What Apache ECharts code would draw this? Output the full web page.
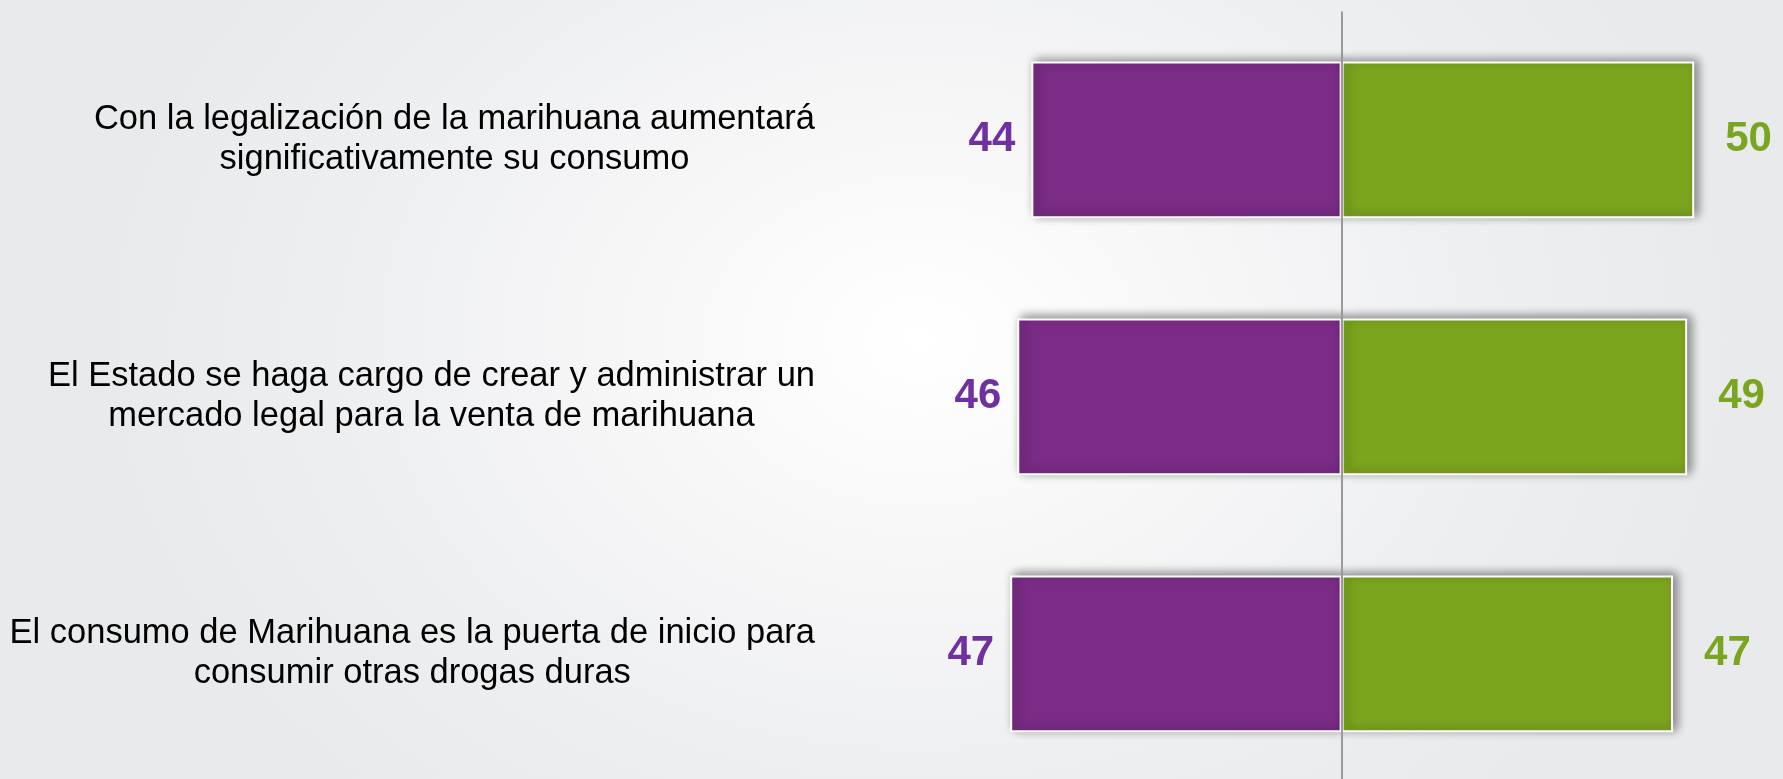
<!DOCTYPE html>
<html>
<head>
<meta charset="utf-8">
<script src="https://cdn.jsdelivr.net/npm/echarts@6/dist/echarts.min.js"></script>
<style>
  html, body { margin: 0; padding: 0; }
  body {
    width: 1783px; height: 779px; overflow: hidden;
    background: radial-gradient(ellipse 820px 620px at 920px 340px, #ffffff 0%, #f7f7f8 35%, #eeeff1 70%, #e9eaec 100%);
  }
  #chart { width: 1783px; height: 779px; }
</style>
</head>
<body>
<div id="chart"></div>
<script>
const categories = [
  'Con la legalización de la marihuana aumentará\nsignificativamente su consumo',
  'El Estado se haga cargo de crear y administrar un\nmercado legal para la venta de marihuana',
  'El consumo de Marihuana es la puerta de inicio para\nconsumir otras drogas duras'
];
const purpleValues = [44, 46, 47];
const greenValues = [50, 49, 47];

const FONT = 'Arial, "Liberation Sans", sans-serif';
const chart = echarts.init(document.getElementById('chart'), null, { renderer: 'canvas' });

const shadow = { shadowBlur: 10, shadowColor: 'rgba(0,0,0,0.45)', shadowOffsetX: 4, shadowOffsetY: -2 };

chart.setOption({
  animation: false,
  backgroundColor: 'transparent',
  grid: { left: 848, right: 18.3, top: 11.4, bottom: -3.3, containLabel: false, outerBoundsMode: 'none' },
  xAxis: { type: 'value', min: -70, max: 60, show: false },
  yAxis: {
    type: 'category',
    data: categories,
    inverse: true,
    axisLine: { show: false },
    axisTick: { show: false },
    splitLine: { show: false },
    axisLabel: {
      margin: 33,
      align: 'right',
      formatter: function (v) {
        return v.split('\n').map(function (l) { return '{c|' + l + '}'; }).join('\n');
      },
      rich: {
        c: { align: 'center', fontSize: 34.5, lineHeight: 40, color: '#000', fontFamily: FONT }
      }
    }
  },
  series: [
    {
      name: 'En desacuerdo',
      type: 'bar',
      stack: 'total',
      barWidth: '61%',
      data: purpleValues.map(function (v) { return -v; }),
      itemStyle: Object.assign({ color: '#7B2C86', borderColor: '#ffffff', borderWidth: 2 }, shadow),
      label: {
        show: true,
        position: 'left',
        distance: 16,
        formatter: function (p) { return Math.abs(p.value); },
        color: '#7030A0',
        fontSize: 42,
        fontWeight: 'bold',
        fontFamily: FONT
      }
    },
    {
      name: 'De acuerdo',
      type: 'bar',
      stack: 'total',
      barWidth: '61%',
      data: greenValues,
      itemStyle: Object.assign({ color: '#7CA51E', borderColor: '#ffffff', borderWidth: 2 }, shadow),
      label: {
        show: true,
        position: 'right',
        distance: 31,
        color: '#7AA51E',
        fontSize: 42,
        fontWeight: 'bold',
        fontFamily: FONT
      },
      markLine: {
        silent: true,
        symbol: ['none', 'none'],
        label: { show: false },
        lineStyle: { color: '#9a9a9a', width: 2, type: 'solid' },
        data: [{ xAxis: 0 }]
      }
    }
  ]
});
</script>
</body>
</html>
